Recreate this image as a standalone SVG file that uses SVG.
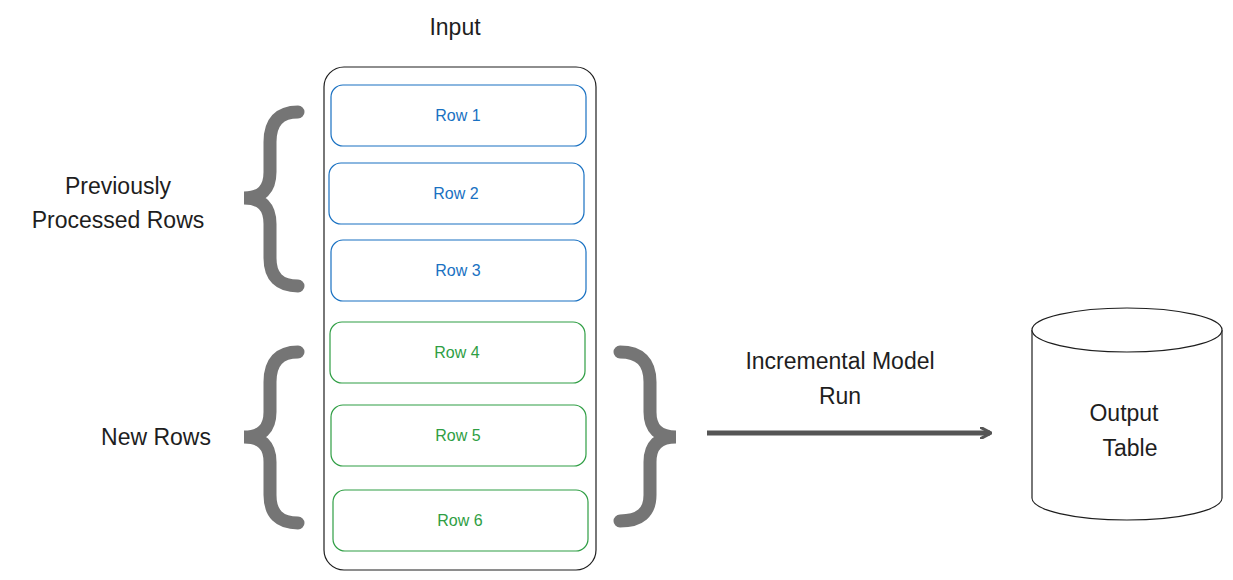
<svg xmlns="http://www.w3.org/2000/svg" width="1233" height="580" viewBox="0 0 1233 580">
<style>
text{font-family:"Liberation Sans",Arial,sans-serif;fill:#1e1e1e;text-anchor:middle}
.lbl{font-size:23px}
.row{fill:#fff;stroke-width:1.2}
.blue rect{stroke:#1971c2}.blue text{fill:#1971c2;font-size:16px}
.green rect{stroke:#2f9e44}.green text{fill:#2f9e44;font-size:16px}
.brace{fill:none;stroke:#757575;stroke-width:13;stroke-linecap:round}
</style>
<defs><marker id="ah" markerWidth="12" markerHeight="12" refX="10" refY="6" orient="auto" markerUnits="userSpaceOnUse"><path d="M0,0 L11,6 L0,12" fill="none" stroke="#555" stroke-width="3"/></marker></defs>
<rect width="1233" height="580" fill="#fff"/>
<g id="input"><rect x="324" y="67" width="272" height="503" rx="20" fill="none" stroke="#1e1e1e" stroke-width="1.2"/><text class="lbl" x="455" y="35">Input</text></g>
<g id="row1" class="blue"><rect class="row" x="331" y="85" width="255" height="61" rx="12"/><text x="458" y="121">Row 1</text></g>
<g id="row2" class="blue"><rect class="row" x="329" y="163" width="255" height="61" rx="12"/><text x="456" y="199">Row 2</text></g>
<g id="row3" class="blue"><rect class="row" x="331" y="240" width="255" height="61" rx="12"/><text x="458" y="276">Row 3</text></g>
<g id="row4" class="green"><rect class="row" x="330" y="322" width="255" height="61" rx="12"/><text x="457" y="358">Row 4</text></g>
<g id="row5" class="green"><rect class="row" x="331" y="405" width="255" height="61" rx="12"/><text x="458" y="441">Row 5</text></g>
<g id="row6" class="green"><rect class="row" x="333" y="490" width="255" height="61" rx="12"/><text x="460" y="526">Row 6</text></g>
<g id="brace1"><path class="brace" d="M298,112 Q270,112 270,142 L270,172 Q270,198 244,198 Q270,198 270,224 L270,258 Q270,286 298,286"/></g>
<g id="brace2"><path class="brace" d="M298,352 Q270,352 270,382 L270,412 Q270,437 244,437 Q270,437 270,462 L270,495 Q270,523 298,523"/></g>
<g id="brace3"><path class="brace" d="M620,352 Q650,352 650,382 L650,412 Q650,437 676,437 Q650,437 650,462 L650,495 Q650,521 620,521"/></g>
<g id="labels">
<text class="lbl" x="118" y="194">Previously</text><text class="lbl" x="118" y="228">Processed Rows</text>
<text class="lbl" x="156" y="445">New Rows</text>
<text class="lbl" x="840" y="369">Incremental Model</text><text class="lbl" x="840" y="404">Run</text>
</g>
<g id="connectors"><path d="M707,433 L990,433" stroke="#555" stroke-width="5" fill="none" marker-end="url(#ah)"/></g>
<g id="output"><path d="M1032,330 L1032,498 A95,22 0 0 0 1222,498 L1222,330" fill="#fff" stroke="#1e1e1e" stroke-width="1.2"/><ellipse cx="1127" cy="330" rx="95" ry="22" fill="#fff" stroke="#1e1e1e" stroke-width="1.2"/>
<text class="lbl" x="1124" y="421">Output</text><text class="lbl" x="1130" y="456">Table</text></g>
</svg>
